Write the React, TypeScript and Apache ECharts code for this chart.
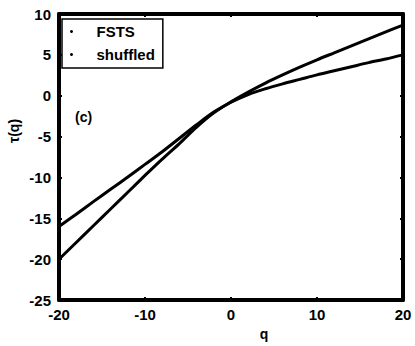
import React, { useEffect, useRef } from "react";
import * as echarts from "echarts";

const qValues = [-20, -18, -16, -14, -12, -10, -8, -6, -4, -2, 0, 2, 4, 6, 8, 10, 12, 14, 16, 18, 20];
const fstsTau = [-20, -17.95, -15.9, -13.85, -11.8, -9.75, -7.75, -5.85, -3.85, -2.1, -0.75, 0.45, 1.55, 2.55, 3.5, 4.4, 5.25, 6.1, 6.95, 7.8, 8.65];
const shuffledTau = [-16, -14.5, -12.95, -11.45, -9.95, -8.4, -6.85, -5.2, -3.55, -2.0, -0.8, 0.15, 0.85, 1.45, 2.0, 2.55, 3.05, 3.55, 4.05, 4.5, 5.0];
const seriesNames = ["FSTS", "shuffled"];
const xTicks = { min: -20, max: 20, interval: 10 };
const yTicks = { min: -25, max: 10, interval: 5 };
const xLabel = "q";
const yLabel = "τ(q)";
const panelTag = "(c)";

const FONT = "'Liberation Sans', Arial, sans-serif";

export default function App() {
  const ref = useRef<HTMLDivElement>(null);
  useEffect(() => {
    if (!ref.current) return;
    const chart = echarts.init(ref.current, null, { renderer: "svg" });
    const toPairs = (ys: number[]) => qValues.map((q, i) => [q, ys[i]]);
    const axisLine = { show: true, onZero: false, lineStyle: { color: "#000", width: 4 } };
    const tick = { show: true, inside: true, length: 3, lineStyle: { color: "#000", width: 2 } };
    const label = { color: "#000", fontFamily: FONT, fontWeight: "bold" as const, fontSize: 15 };
    chart.setOption({
      animation: false,
      backgroundColor: "#fff",
      grid: { left: 59, right: 12, top: 14, bottom: 32, containLabel: false },
      legend: {
        left: 62,
        top: 19,
        orient: "vertical",
        icon: "circle",
        itemWidth: 40,
        itemHeight: 3,
        itemGap: 8,
        padding: [5, 8, 6, 8],
        borderColor: "#000",
        borderWidth: 1.5,
        borderRadius: 0,
        backgroundColor: "#fff",
        textStyle: { color: "#000", fontFamily: FONT, fontWeight: "bold", fontSize: 15 },
        data: seriesNames,
      },
      xAxis: [
        {
          type: "value",
          min: xTicks.min,
          max: xTicks.max,
          interval: xTicks.interval,
          axisLine,
          axisTick: tick,
          axisLabel: { ...label, margin: 7 },
          splitLine: { show: false },
          name: xLabel,
          nameLocation: "middle",
          nameGap: 20,
          nameTextStyle: { ...label, fontSize: 14, padding: [0, 0, 0, 66] },
        },
        {
          type: "value",
          position: "top",
          min: xTicks.min,
          max: xTicks.max,
          interval: xTicks.interval,
          axisLine,
          axisTick: tick,
          axisLabel: { show: false },
          splitLine: { show: false },
        },
      ],
      yAxis: [
        {
          type: "value",
          min: yTicks.min,
          max: yTicks.max,
          interval: yTicks.interval,
          axisLine,
          axisTick: tick,
          axisLabel: { ...label, margin: 8 },
          splitLine: { show: false },
        },
        {
          type: "value",
          position: "right",
          min: yTicks.min,
          max: yTicks.max,
          interval: yTicks.interval,
          axisLine,
          axisTick: tick,
          axisLabel: { show: false },
          splitLine: { show: false },
        },
      ],
      graphic: [
        {
          type: "text",
          left: 75,
          top: 110,
          style: { text: panelTag, fill: "#000", font: `bold 14px ${FONT}` },
        },
        {
          type: "text",
          x: 14,
          y: 131,
          rotation: Math.PI / 2,
          style: {
            text: yLabel,
            fill: "#000",
            font: `bold 14px ${FONT}`,
            align: "center",
            verticalAlign: "middle",
          },
        },
      ],
      series: seriesNames.map((name, i) => ({
        name,
        type: "line",
        data: toPairs(i === 0 ? fstsTau : shuffledTau),
        smooth: 0.3,
        symbol: "none",
        color: "#000",
        lineStyle: { color: "#000", width: 3 },
      })),
    });
    return () => chart.dispose();
  }, []);
  return (
    <div
      ref={ref}
      style={{ position: "fixed", left: 0, top: 0, width: 415, height: 346, background: "#fff" }}
    />
  );
}
